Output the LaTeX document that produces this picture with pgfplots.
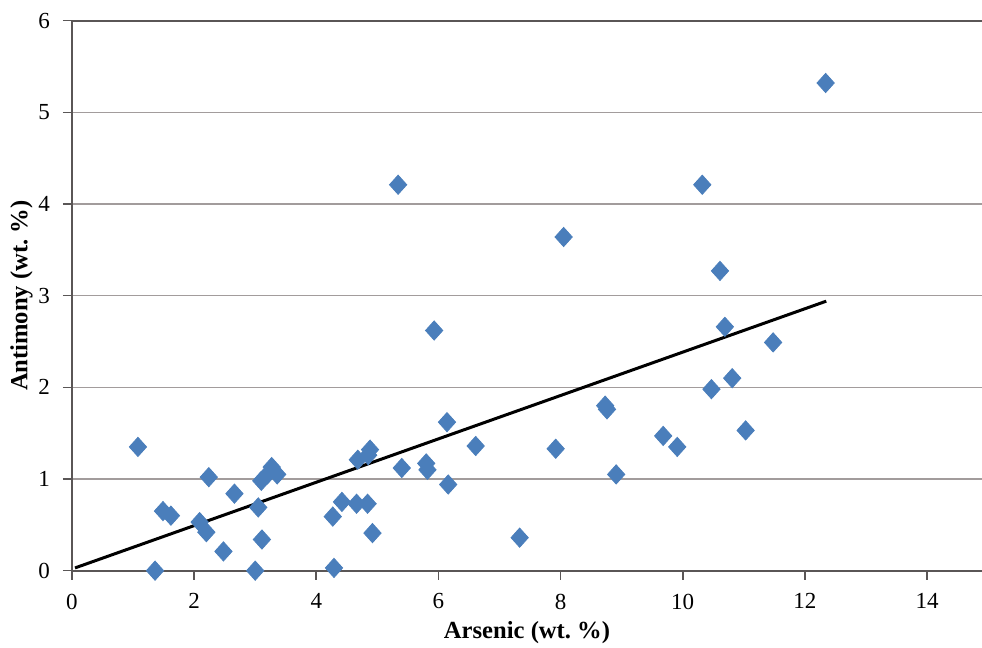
\documentclass[border=0pt]{standalone}
\usepackage{fontspec}
\setmainfont{Liberation Serif}
\usepackage{pgfplots}
\pgfplotsset{compat=1.18}
\definecolor{ptblue}{HTML}{4A7EBB}
\definecolor{gridc}{HTML}{A29C9C}
\definecolor{axisc}{HTML}{5A5656}
\begin{document}
\begin{tikzpicture}
\begin{axis}[
  scale only axis,
  width=455pt, height=275pt,
  xmin=0, xmax=14.9, ymin=0, ymax=6,
  axis x line=bottom, axis y line=left,
  axis line style={-, color=axisc, line width=1pt},
  xtick={0,2,...,14}, ytick={0,1,...,5},
  extra y ticks={6},
  extra y tick style={grid style={color=axisc, line width=1pt}},
  ymajorgrids,
  grid style={color=gridc, line width=0.6pt},
  tick align=outside,
  major tick length=4.5pt,
  tick style={color=axisc, line width=0.8pt},
  /pgf/number format/assume math mode=true,
  ticklabel style={font=\fontsize{11.5}{13}\selectfont, text=black},
  xticklabel style={yshift=-3.5pt},
  yticklabel style={xshift=-3pt},
  xlabel={Arsenic (wt.\ \%)},
  ylabel={Antimony (wt.\ \%)},
  label style={font=\bfseries\fontsize{12.3}{14}\selectfont},
  xlabel style={at={(axis description cs:0.5,-0.1127)}, anchor=center},
  ylabel style={at={(axis description cs:-0.0555,0.5)}, anchor=center},
  clip=false,
]
\addplot[only marks, mark=diamond*, mark size=4.8pt,
  mark options={xscale=1.2, fill=ptblue, draw=ptblue}]
coordinates {
(1.08,1.35) (1.36,0.00) (1.49,0.65) (1.62,0.60) (2.09,0.53) (2.20,0.42)
(2.24,1.02) (2.48,0.21) (2.66,0.84) (3.00,0.00) (3.05,0.69) (3.11,0.34)
(3.10,0.98) (3.20,1.05) (3.27,1.13) (3.36,1.05) (4.27,0.59) (4.29,0.03)
(4.42,0.75) (4.66,0.73) (4.84,0.73) (4.92,0.41) (4.68,1.21) (4.85,1.26)
(4.88,1.32) (5.40,1.12) (5.80,1.17) (5.82,1.10) (6.14,1.62) (6.16,0.94)
(5.93,2.62) (6.61,1.36) (5.34,4.21) (12.34,5.32) (10.32,4.21) (8.05,3.64)
(10.61,3.27) (10.69,2.66) (11.48,2.49) (10.81,2.10) (10.47,1.98) (8.73,1.80)
(8.76,1.76) (7.92,1.33) (9.68,1.47) (9.91,1.35) (11.03,1.53) (8.91,1.05)
(7.33,0.36)
};
\addplot[black, line width=1.5pt] coordinates {(0.05,0.03) (12.35,2.94)};
\coordinate (bl) at (axis description cs:-0.0791,-0.1405);
\coordinate (tr) at (axis description cs:1,1.0376);
\end{axis}
\pgfresetboundingbox
\path[use as bounding box] (bl) rectangle (tr);
\end{tikzpicture}
\end{document}
